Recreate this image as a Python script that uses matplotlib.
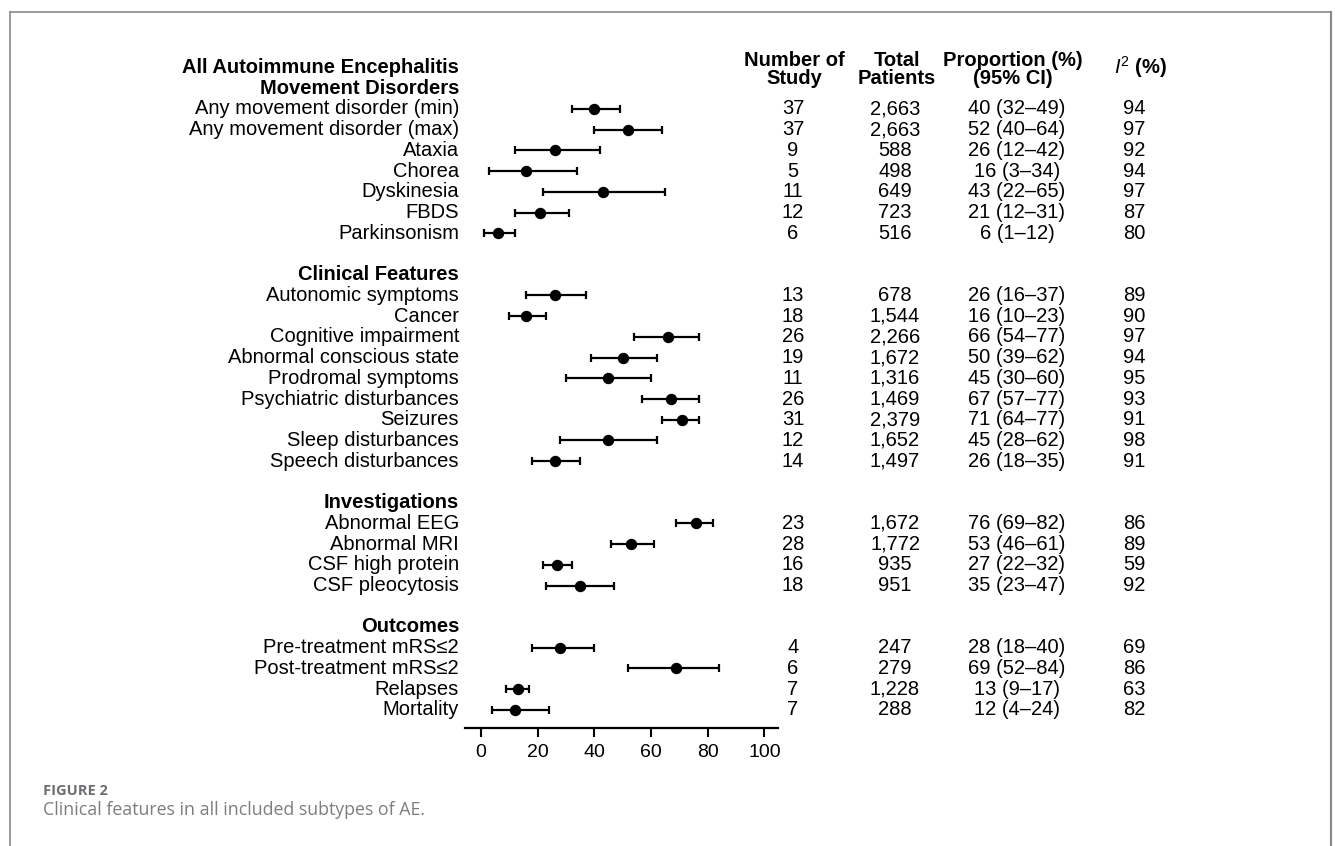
import numpy as np
import matplotlib.pyplot as plt
from matplotlib import transforms
from matplotlib.lines import Line2D

plt.rcParams['font.family'] = ['Liberation Sans', 'DejaVu Sans']
plt.rcParams['mathtext.fontset'] = 'custom'
plt.rcParams['mathtext.rm'] = 'Liberation Sans'
plt.rcParams['mathtext.it'] = 'Liberation Sans:italic'

# data
title = 'All Autoimmune Encephalitis'
groups = ['Movement Disorders', 'Clinical Features', 'Investigations', 'Outcomes']
group_sizes = [7, 9, 4, 4]
labels = ['Any movement disorder (min)', 'Any movement disorder (max)', 'Ataxia', 'Chorea',
          'Dyskinesia', 'FBDS', 'Parkinsonism',
          'Autonomic symptoms', 'Cancer', 'Cognitive impairment', 'Abnormal conscious state',
          'Prodromal symptoms', 'Psychiatric disturbances', 'Seizures', 'Sleep disturbances',
          'Speech disturbances',
          'Abnormal EEG', 'Abnormal MRI', 'CSF high protein', 'CSF pleocytosis',
          'Pre-treatment mRS≤2', 'Post-treatment mRS≤2', 'Relapses', 'Mortality']
n_study = [37, 37, 9, 5, 11, 12, 6,
           13, 18, 26, 19, 11, 26, 31, 12, 14,
           23, 28, 16, 18,
           4, 6, 7, 7]
n_patients = [2663, 2663, 588, 498, 649, 723, 516,
              678, 1544, 2266, 1672, 1316, 1469, 2379, 1652, 1497,
              1672, 1772, 935, 951,
              247, 279, 1228, 288]
prop = [40, 52, 26, 16, 43, 21, 6,
        26, 16, 66, 50, 45, 67, 71, 45, 26,
        76, 53, 27, 35,
        28, 69, 13, 12]
ci_low = [32, 40, 12, 3, 22, 12, 1,
          16, 10, 54, 39, 30, 57, 64, 28, 18,
          69, 46, 22, 23,
          18, 52, 9, 4]
ci_high = [49, 64, 42, 34, 65, 31, 12,
           37, 23, 77, 62, 60, 77, 77, 62, 35,
           82, 61, 32, 47,
           40, 84, 17, 24]
i2 = [94, 97, 92, 94, 97, 87, 80,
      89, 90, 97, 94, 95, 93, 91, 98, 91,
      86, 89, 59, 92,
      69, 86, 63, 82]

# row layout: title, then per group a header, its items, a blank row
header_rows = []
item_rows = []
r = 1
for size in group_sizes:
    header_rows.append(r)
    item_rows.extend(range(r + 1, r + 1 + size))
    r += size + 2
item_rows = np.array(item_rows)

W, H = 1335, 846
y0, dy = 67.5, 20.72
i_bot = (728 - y0) / dy
i_top = -2
top_px = y0 + i_top * dy

fig = plt.figure(figsize=(W / 100, H / 100), dpi=100)
ax = fig.add_axes([465.4 / W, (H - 728) / H, (778.5 - 465.4) / W, (728 - top_px) / H])

p = np.array(prop)
lo = np.array(ci_low)
hi = np.array(ci_high)
ax.errorbar(p, item_rows, xerr=[p - lo, hi - p], fmt='o', color='black',
            ms=7.2, elinewidth=1.6, capsize=3.2, capthick=1.6)

ax.set_xlim(-5.5, 105)
ax.set_ylim(i_bot, i_top)
for s in ['top', 'left', 'right']:
    ax.spines[s].set_visible(False)
ax.spines['bottom'].set_linewidth(1.6)
ax.set_yticks([])
ax.set_xticks(range(0, 101, 20))
ax.tick_params(axis='x', direction='out', length=6.5, width=1.5, labelsize=14, pad=5)

trans = transforms.blended_transform_factory(fig.transFigure, ax.transData)
fs = 14.5
lab_x = 459 / W

ax.text(lab_x, 0, title, transform=trans, ha='right', va='center', fontsize=fs,
        fontweight='bold', clip_on=False)
for g, hr in zip(groups, header_rows):
    ax.text(lab_x, hr, g, transform=trans, ha='right', va='center', fontsize=fs,
            fontweight='bold', clip_on=False)

col_x = [793 / W, 895 / W, 1017 / W, 1134 / W]
for k, row in enumerate(item_rows):
    ax.text(lab_x, row, labels[k], transform=trans, ha='right', va='center', fontsize=fs, clip_on=False)
    ax.text(col_x[0], row, str(n_study[k]), transform=trans, ha='center', va='center', fontsize=fs, clip_on=False)
    ax.text(col_x[1], row, f'{n_patients[k]:,}', transform=trans, ha='center', va='center', fontsize=fs, clip_on=False)
    ax.text(col_x[2], row, f'{prop[k]} ({ci_low[k]}–{ci_high[k]})', transform=trans, ha='center', va='center',
            fontsize=fs, clip_on=False)
    ax.text(col_x[3], row, str(i2[k]), transform=trans, ha='center', va='center', fontsize=fs, clip_on=False)

# column headers
h1 = (60 - y0) / dy
h2 = (78 - y0) / dy
hm = (67 - y0) / dy
ax.text(794 / W, h1, 'Number of', transform=trans, ha='center', va='center', fontsize=fs, fontweight='bold', clip_on=False)
ax.text(794 / W, h2, 'Study', transform=trans, ha='center', va='center', fontsize=fs, fontweight='bold', clip_on=False)
ax.text(897 / W, h1, 'Total', transform=trans, ha='center', va='center', fontsize=fs, fontweight='bold', clip_on=False)
ax.text(897 / W, h2, 'Patients', transform=trans, ha='center', va='center', fontsize=fs, fontweight='bold', clip_on=False)
ax.text(1013 / W, h1, 'Proportion (%)', transform=trans, ha='center', va='center', fontsize=fs, fontweight='bold', clip_on=False)
ax.text(1013 / W, h2, '(95% CI)', transform=trans, ha='center', va='center', fontsize=fs, fontweight='bold', clip_on=False)
ax.text(1141 / W, hm, r'$I^2$ (%)', transform=trans, ha='center', va='center', fontsize=fs, fontweight='bold', clip_on=False)

# caption
fig.text(43 / W, 1 - 791 / H, 'FIGURE 2', family=['Open Sans', 'DejaVu Sans'], fontweight='bold',
         color='#6d6e71', fontsize=10.5, va='center')
fig.text(43 / W, 1 - 810 / H, 'Clinical features in all included subtypes of AE.',
         family=['Open Sans', 'DejaVu Sans'], color='#7d7d7d', fontsize=12.8, va='center')

# page frame
fc = '#8a8a8a'
fig.add_artist(Line2D([9.5 / W, 9.5 / W], [0, 1 - 11.7 / H], transform=fig.transFigure, color=fc, lw=1.2))
fig.add_artist(Line2D([9.5 / W, 1331 / W], [1 - 11.7 / H, 1 - 11.7 / H], transform=fig.transFigure, color=fc, lw=1.2))
fig.add_artist(Line2D([1331 / W, 1331 / W], [0, 1 - 11.7 / H], transform=fig.transFigure, color=fc, lw=1.6))

fig.savefig('out.png', dpi=100)
